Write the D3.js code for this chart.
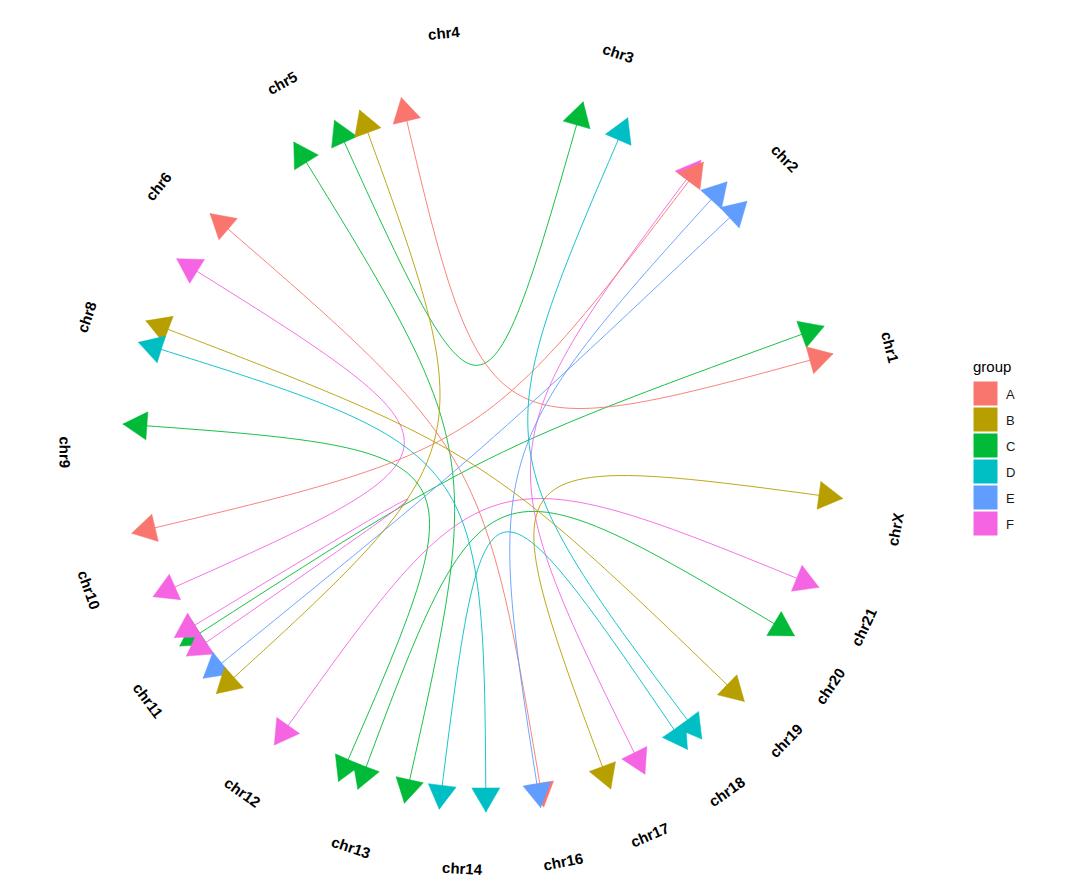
<!DOCTYPE html>
<html><head><meta charset="utf-8">
<script src="https://cdn.jsdelivr.net/npm/d3@7"></script>
<style>body{margin:0;background:#fff}svg{display:block}</style>
</head><body><svg id="chart" width="1080" height="895"></svg>
<script>
// ---- data ----
const groups = ["A","B","C","D","E","F"];
const groupColors = ["#F8766D","#B79F00","#00BA38","#00BFC4","#619CFF","#F564E3"];

// chromosome labels and their position on the circle (degrees, clockwise from 3 o'clock)
const chromosomes = ["chr1","chr2","chr3","chr4","chr5","chr6","chr8","chr9","chr10","chr11",
                     "chr12","chr13","chr14","chr16","chr17","chr18","chr19","chr20","chr21","chrX"];
const chromosomePos = [345.8, 315.9, 288.7, 264.5, 241.2, 219.0, 198.5, 179.7, 160.5, 143.3,
                       125.2, 108.5, 93.0, 79.1, 66.7, 54.6, 43.9, 34.3, 25.0, 10.9];

// links (drawing order)
const edgeGroup   = ["C","C","C","C","C","F","F","F","F","A","A","A","E","E","B","B","B","D","D","D"];
const edgeFromChr = ["chr1","chr5","chr5","chr9","chr21","chr2","chr11","chr6","chr21","chr4",
                     "chr2","chr6","chr2","chr2","chr5","chr8","chrX","chr8","chr3","chr18"];
const edgeFromPos = [340.0, 245.6, 238.3, 184.1, 30.9, 306.8, 148.8, 211.9, 22.3, 256.8,
                     307.3, 220.8, 312.2, 316.6, 249.9, 200.9, 7.7, 197.3, 293.4, 55.8];
const edgeToChr   = ["chr11","chr3","chr14","chr13","chr13","chr17","chr11","chr10","chr12","chr1",
                     "chr10","chr16","chr16","chr11","chr11","chr19","chr17","chr14","chr18","chr14"];
const edgeToPos   = [147.2, 285.9, 102.7, 113.7, 110.4, 63.6, 145.3, 156.1, 125.4, 344.6,
                     166.7, 80.5, 81.0, 140.9, 137.7, 44.0, 69.5, 89.7, 53.0, 97.1];

// ---- drawing ----
const svg = d3.select("#chart");
const cx = 484, cy = 450, rNode = 362, rLabel = 419;
const angle = d3.scaleLinear().domain([0, 360]).range([0, 2 * Math.PI]);
const color = d3.scaleOrdinal().domain(groups).range(groupColors);
const pt = (pos, r) => [cx + r * Math.cos(angle(pos)), cy + r * Math.sin(angle(pos))];

const edges = edgeGroup.map((g, i) => ({
  group: g, from: edgeFromChr[i], to: edgeToChr[i], p0: edgeFromPos[i], p1: edgeToPos[i]
}));

const arrowLen = 24, arrowHalf = 14;
function arrowPoints(pos) {
  const tip = pt(pos, rNode);
  const a = angle(pos);
  const ux = Math.cos(a), uy = Math.sin(a);
  const bx = tip[0] - arrowLen * ux, by = tip[1] - arrowLen * uy;
  const nx = -uy, ny = ux;
  return [tip, [bx + arrowHalf * nx, by + arrowHalf * ny], [bx - arrowHalf * nx, by - arrowHalf * ny]];
}

const gEdges = svg.append("g");
edges.forEach(e => {
  const a = pt(e.p0, rNode), b = pt(e.p1, rNode);
  const p = d3.path();
  p.moveTo(a[0], a[1]);
  p.bezierCurveTo(cx, cy, cx, cy, b[0], b[1]);
  const g = gEdges.append("g");
  g.append("path").attr("d", p.toString())
    .attr("fill", "none").attr("stroke", color(e.group))
    .attr("stroke-width", 1).attr("stroke-opacity", 0.9);
  [e.p0, e.p1].forEach(pos => {
    g.append("polygon")
      .attr("points", arrowPoints(pos).map(d => d.join(",")).join(" "))
      .attr("fill", color(e.group)).attr("stroke", color(e.group)).attr("stroke-width", 0.5);
  });
});

// chromosome labels
svg.append("g").selectAll("text").data(chromosomes).join("text")
  .attr("transform", (d, i) => {
    const [x, y] = pt(chromosomePos[i], rLabel);
    let r = chromosomePos[i] + 90;
    while (r > 180) r -= 360;
    while (r <= -180) r += 360;
    if (r > 90) r -= 180;
    if (r < -90) r += 180;
    return `translate(${x},${y}) rotate(${r})`;
  })
  .attr("text-anchor", "middle").attr("dominant-baseline", "central")
  .attr("font-family", "Liberation Sans, Arial, sans-serif")
  .attr("font-weight", "bold").attr("font-size", 15).attr("fill", "#000")
  .text(d => d);

// legend
const lg = svg.append("g").attr("transform", "translate(973,0)");
lg.append("text").attr("x", 0).attr("y", 372).text("group")
  .attr("font-family", "Liberation Sans, Arial, sans-serif").attr("font-size", 15).attr("fill", "#000");
groups.forEach((g, i) => {
  lg.append("rect").attr("x", 0).attr("y", 381 + i * 26).attr("width", 25).attr("height", 25)
    .attr("fill", color(g)).attr("stroke", "#fff").attr("stroke-width", 1);
  lg.append("text").attr("x", 33).attr("y", 381 + i * 26 + 18).text(g)
    .attr("font-family", "Liberation Sans, Arial, sans-serif").attr("font-size", 13).attr("fill", "#1a1a1a");
});
</script>
</body></html>
